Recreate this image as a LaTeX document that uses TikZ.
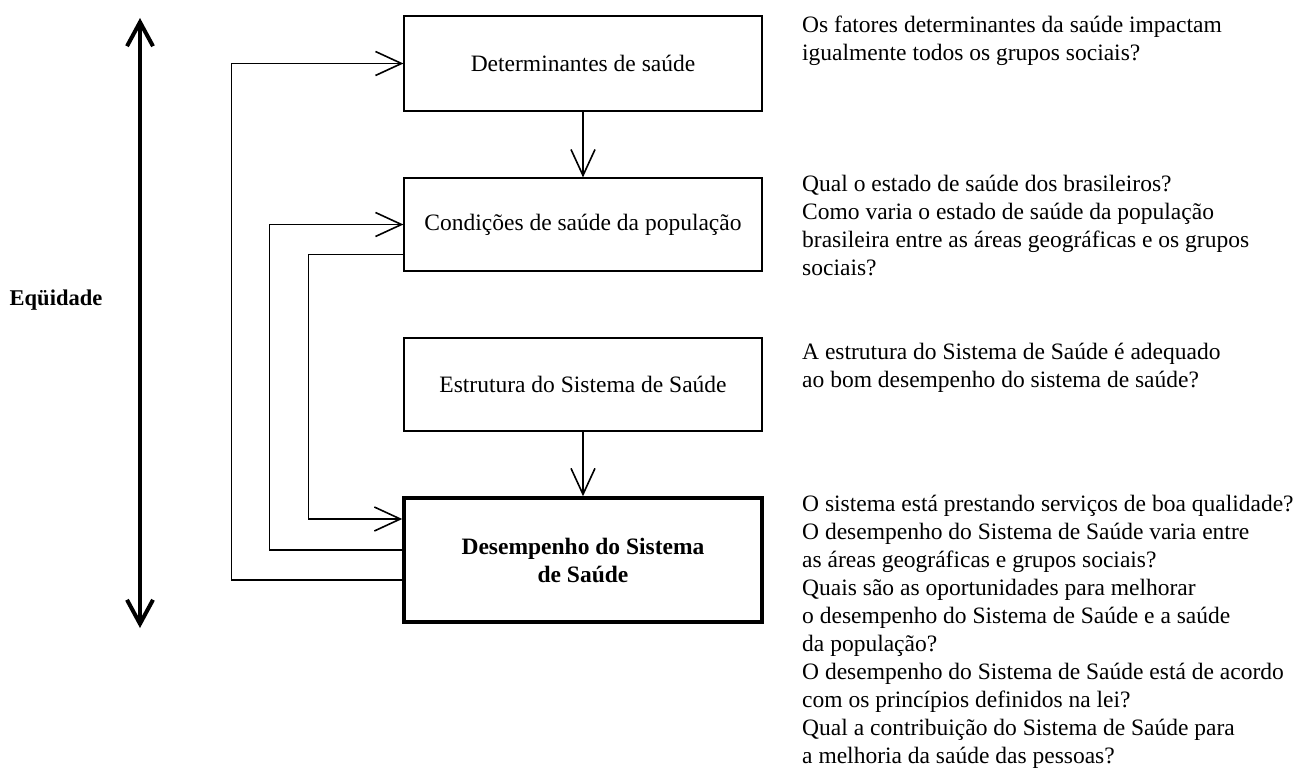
\documentclass[tikz,border=0pt]{standalone}
\usepackage{fontspec}
\setmainfont{Liberation Serif}
\usetikzlibrary{arrows.meta}

\begin{document}
\begin{tikzpicture}[
        x=1pt, y=-1pt,
        every node/.style={font=\fontsize{23.5}{28}\selectfont},
        box/.style={draw, line width=1.2pt, minimum width=358pt, inner sep=0pt},
        mainbox/.style={box, line width=3.5pt, minimum height=124pt},
        link/.style={line width=1.1pt, -{Straight Barb[length=26pt, width=24pt, line width=1.6pt]}},
        equity/.style={line width=4pt, {Straight Barb[length=24pt, width=26pt, line width=4pt]}-{Straight Barb[length=24pt, width=26pt, line width=4pt]}},
        question/.style={anchor=north west, align=left, inner sep=0pt}
    ]

        \useasboundingbox (0, 0) rectangle (1295, 778);

        \node [box, minimum height=95pt] (determ) at (583, 63.5)  {Determinantes de saúde};
        \node [box, minimum height=93pt] (cond)   at (583, 224.5) {Condições de saúde da população};
        \node [box, minimum height=93pt] (estrut) at (583, 384.5) {Estrutura do Sistema de Saúde};
        \node [mainbox, align=center]    (desemp) at (583, 560)
            {\bfseries Desempenho do Sistema\\\bfseries de Saúde};

        \draw [link] (determ) -- (cond);
        \draw [link] (estrut) -- (desemp);

        \draw [link] ([yshift=-20pt]desemp.west) -- ++(-171, 0) |- (determ.west);
        \draw [link] ([yshift=10pt]desemp.west)  -- ++(-133, 0) |- (cond.west);
        \draw [link] ([yshift=-30pt]cond.west)   -- ++(-95, 0)  |- ([yshift=41pt]desemp.west);

        \coordinate (eqtop) at (140, 18);
        \coordinate (eqbot) at (140, 628);
        \draw [equity] (eqbot) -- (eqtop);
        \node [font=\fontsize{22.5}{28}\selectfont\bfseries] (equid) at (56, 300) {Eqüidade};

        \node [question] (q1) at (802, 13)
            {\strut Os fatores determinantes da saúde impactam\\
             igualmente todos os grupos sociais?};
        \node [question] (q2) at (802, 172)
            {\strut Qual o estado de saúde dos brasileiros?\\
             Como varia o estado de saúde da população\\
             brasileira entre as áreas geográficas e os grupos\\
             sociais?};
        \node [question] (q3) at (802, 340)
            {\strut A estrutura do Sistema de Saúde é adequado\\
             ao bom desempenho do sistema de saúde?};
        \node [question] (q4) at (802, 492)
            {\strut O sistema está prestando serviços de boa qualidade?\\
             O desempenho do Sistema de Saúde varia entre\\
             as áreas geográficas e grupos sociais?\\
             Quais são as oportunidades para melhorar\\
             o desempenho do Sistema de Saúde e a saúde\\
             da população?\\
             O desempenho do Sistema de Saúde está de acordo\\
             com os princípios definidos na lei?\\
             Qual a contribuição do Sistema de Saúde para\\
             a melhoria da saúde das pessoas?};

    \end{tikzpicture}
\end{document}
